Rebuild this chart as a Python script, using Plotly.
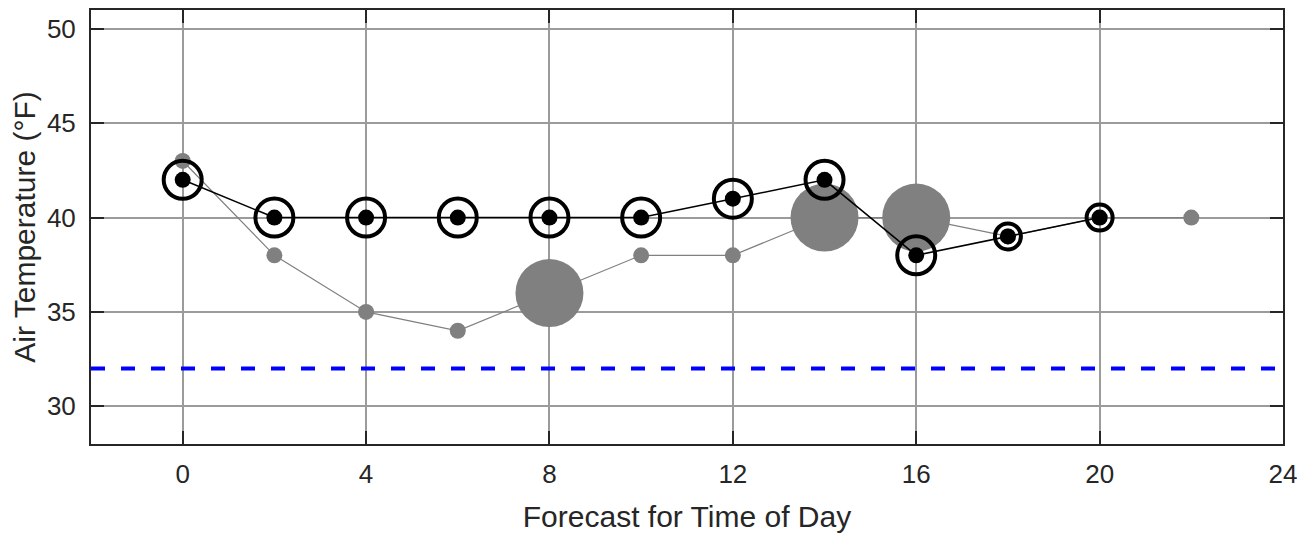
import plotly.graph_objects as go

# ---- data ----
hours = [0, 2, 4, 6, 8, 10, 12, 14, 16, 18, 20, 22]
gray_temp = [43, 38, 35, 34, 36, 38, 38, 40, 40, 39, 40, 40]
black_hours = [0, 2, 4, 6, 8, 10, 12, 14, 16, 18, 20]
black_temp = [42, 40, 40, 40, 40, 40, 41, 42, 38, 39, 40]
freeze_line = 32
x_ticks = [0, 4, 8, 12, 16, 20, 24]
y_ticks = [30, 35, 40, 45, 50]

# marker size encodings (style)
gray_marker_sizes = [16, 16, 16, 16, 68, 16, 16, 68, 68, 16, 16, 16]
ring_sizes = [38, 38, 38, 38, 38, 38, 38, 38, 38, 26, 26]

FONT = "Liberation Sans, Arial, sans-serif"
AX = "#262626"
GRID = "#9b9b9b"
PAGE_PAD = 8  # default body margin of the html page

fig = go.Figure()

fig.add_trace(go.Scatter(
    x=hours, y=gray_temp, mode="lines+markers",
    line=dict(color="#808080", width=1.2),
    marker=dict(color="#808080", size=gray_marker_sizes, opacity=1, line=dict(width=0)),
    showlegend=False, hoverinfo="skip"))

fig.add_trace(go.Scatter(
    x=black_hours, y=black_temp, mode="lines+markers",
    line=dict(color="black", width=1.6),
    marker=dict(color="black", size=16, opacity=1, line=dict(width=0)),
    showlegend=False, hoverinfo="skip"))

fig.add_trace(go.Scatter(
    x=black_hours, y=black_temp, mode="markers",
    marker=dict(symbol="circle-open", color="black", size=ring_sizes, opacity=1,
                line=dict(width=4, color="black")),
    showlegend=False, hoverinfo="skip"))

fig.add_shape(type="line", xref="paper", x0=0, x1=1, yref="y",
              y0=freeze_line, y1=freeze_line,
              line=dict(color="#0000ff", width=4, dash="14px,16px"))

fig.update_layout(
    width=1309, height=533,
    margin=dict(l=91 - PAGE_PAD, r=26 + PAGE_PAD, t=10 - PAGE_PAD, b=89 + PAGE_PAD),
    plot_bgcolor="white", paper_bgcolor="white",
    font=dict(family=FONT, color=AX, size=26),
    xaxis=dict(
        range=[-2, 24], tickvals=x_ticks, ticktext=[str(v) for v in x_ticks],
        showgrid=True, gridcolor=GRID, gridwidth=2, zeroline=False,
        showline=True, linecolor=AX, linewidth=2, mirror="ticks",
        ticks="inside", ticklen=13, tickwidth=2, tickcolor=AX,
        tickfont=dict(size=26, color=AX), ticklabelstandoff=6,
        title=dict(text="Forecast for Time of Day", font=dict(size=30, color=AX), standoff=18),
        automargin=False,
    ),
    yaxis=dict(
        range=[28, 51], tickvals=y_ticks, ticktext=[str(v) for v in y_ticks],
        showgrid=True, gridcolor=GRID, gridwidth=2, zeroline=False,
        showline=True, linecolor=AX, linewidth=2, mirror="ticks",
        ticks="inside", ticklen=13, tickwidth=2, tickcolor=AX,
        tickfont=dict(size=26, color=AX), ticklabelstandoff=8,
        title=dict(text="Air Temperature (°F)", font=dict(size=30, color=AX), standoff=11),
        automargin=False,
    ),
)

fig.write_html("out.html")
